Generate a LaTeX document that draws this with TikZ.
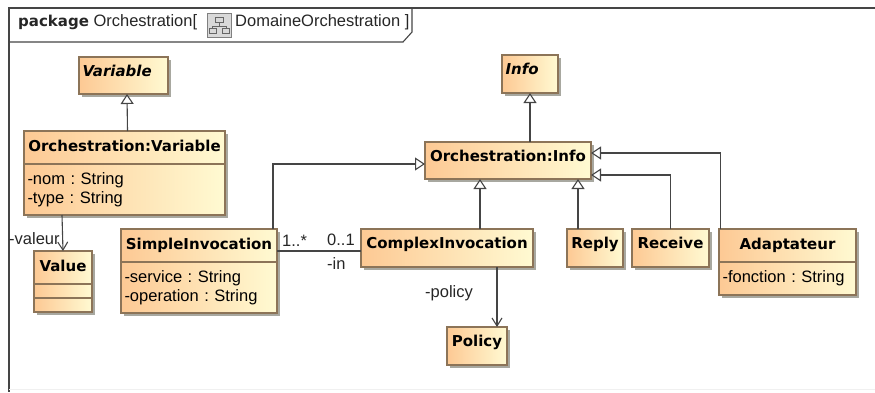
\documentclass[tikz,border=0pt]{standalone}
\usepackage{fontspec}
\setmainfont{Liberation Sans}
\newfontfamily\classfont{DejaVu Sans}
\usetikzlibrary{arrows.meta,shadows}
\frenchspacing
\definecolor{umlorange}{HTML}{FDC994}
\definecolor{umlyellow}{HTML}{FFFAD2}
\definecolor{umlborder}{HTML}{8C7458}
\definecolor{umlline}{HTML}{454545}
\definecolor{umlshadow}{HTML}{A8A8A0}
\tikzset{
  umlbox/.style={draw=umlborder, line width=1.1pt, left color=umlorange, right color=umlyellow,
    drop shadow={shadow xshift=3pt, shadow yshift=-3pt, fill=umlshadow, opacity=1},
    outer sep=0pt, inner ysep=0pt, inner xsep=3.5pt, anchor=north west},
  headbox/.style={umlbox, font=\classfont\fontsize{15}{17}\selectfont\bfseries, text height=11pt, text depth=4pt},
  solobox/.style={umlbox, font=\classfont\fontsize{15}{17}\selectfont\bfseries, text height=11pt, text depth=10pt},
  attrbox/.style={umlbox, font=\fontsize{16.5}{18.5}\selectfont, align=left},
  labeltext/.style={font=\fontsize{16.5}{18}\selectfont, text=black!85, inner sep=0pt, anchor=west},
  generalize/.style={draw=umlline, line width=1.1pt, -{Triangle[fill=white, length=10pt, width=13pt]}},
  navigate/.style={draw=umlline, line width=1.1pt, -{Straight Barb[length=8pt, width=10pt]}}
}
\begin{document}
\begin{tikzpicture}[x=1pt, y=-1pt]
      \useasboundingbox (0,0) rectangle (875,392);
      % frame and its tab
      \draw[umlline, line width=1.2pt] (875,8) -- (9,8) -- (9,392);
      \draw[black!6, line width=1pt] (9,389) -- (875,389);
      \draw[umlline, line width=1.1pt] (412,8) -- (412,32) -- (403,42) -- (9,42);
      \draw
        (18,22) node[labeltext] (pkgname){{\classfont\fontsize{15}{17}\selectfont\bfseries package} Orchestration[}
        (235,22) node[labeltext] (pkgdiagram){DomaineOrchestration ]}
        (207,13) node[draw=gray, fill=black!15, line width=0.7pt, minimum width=24pt, minimum height=24pt, inner sep=0pt, anchor=north west] (pkgicon){};
      % little tree inside the tab icon
      \draw[black!60, line width=0.8pt] (215,17) rectangle (223,22) (219,22) -- (219,26) (212,26) -- (226,26)
        (212,26) -- (212,28) (226,26) -- (226,28) (209,28) rectangle (216,33) (222,28) rectangle (229,33);
      % classes
      \draw
        (79,57) node[solobox, minimum width=89pt, minimum height=37pt, text width=82pt, align=left] (variable){\itshape Variable}
        (24,131) node[headbox, minimum width=201pt, minimum height=33pt] (orchvar){Orchestration:Variable}
        (24,164) node[attrbox, minimum width=201pt, minimum height=51pt, text width=194pt] (orchvarattr){-nom : String\\-type : String}
        (34,251) node[headbox, minimum width=58pt, minimum height=33pt] (value){Value}
        (34,284) node[umlbox, minimum width=58pt, minimum height=14pt] (valueattr){}
        (34,298) node[umlbox, minimum width=58pt, minimum height=14pt] (valueop){}
        (121,229) node[headbox, minimum width=156pt, minimum height=33pt] (simple){SimpleInvocation}
        (121,262) node[attrbox, minimum width=156pt, minimum height=51pt, text width=149pt] (simpleattr){-service : String\\-operation : String}
        (361,229) node[solobox, minimum width=172pt, minimum height=38pt] (complex){ComplexInvocation}
        (502,55) node[solobox, minimum width=56pt, minimum height=38pt, text width=49pt, align=left] (info){\itshape Info}
        (425,142) node[solobox, minimum width=166pt, minimum height=37pt] (orchinfo){Orchestration:Info}
        (567,229) node[solobox, minimum width=56pt, minimum height=38pt] (reply){Reply}
        (632,229) node[solobox, minimum width=77pt, minimum height=38pt] (receive){Receive}
        (719,229) node[headbox, minimum width=137pt, minimum height=33pt] (adaptateur){Adaptateur}
        (719,262) node[attrbox, minimum width=137pt, minimum height=33pt, text width=130pt] (adaptateurattr){-fonction : String}
        (447,327) node[solobox, minimum width=60pt, minimum height=38pt] (policy){Policy};
      % association labels
      \draw
        (9,239) node[labeltext] (valeurlabel){-valeur}
        (282,241) node[labeltext] (manylabel){1..*}
        (327,240) node[labeltext] (onelabel){0..1}
        (327,264) node[labeltext] (inlabel){-in}
        (425,293) node[labeltext] (policylabel){-policy};
      \begin{scope}[generalize]
        \draw ([xshift=3pt]orchvar.north) to ([xshift=3.5pt]variable.south);
        \draw ([xshift=22pt]orchinfo.north) to (info.south);
        \draw ([xshift=74pt]simple.north) |- ([yshift=-3.5pt]orchinfo.west);
        \draw ([xshift=33pt]complex.north) to ([xshift=-28pt]orchinfo.south);
        \draw ([xshift=-17pt]reply.north) to ([xshift=70pt]orchinfo.south);
        \draw (receive.north) |- ([yshift=-14.5pt]orchinfo.east);
        \draw ([xshift=-67pt]adaptateur.north) |- ([yshift=7.5pt]orchinfo.east);
      \end{scope}
      \begin{scope}[navigate]
        \draw ([xshift=-62.5pt]orchvarattr.south) to (value.north);
        \draw ([xshift=50pt]complex.south) to ([xshift=20pt]policy.north);
      \end{scope}
      \draw[umlline, line width=1.1pt] ([yshift=-5.5pt]simple.east) to ([yshift=-3pt]complex.west);
    \end{tikzpicture}
\end{document}
